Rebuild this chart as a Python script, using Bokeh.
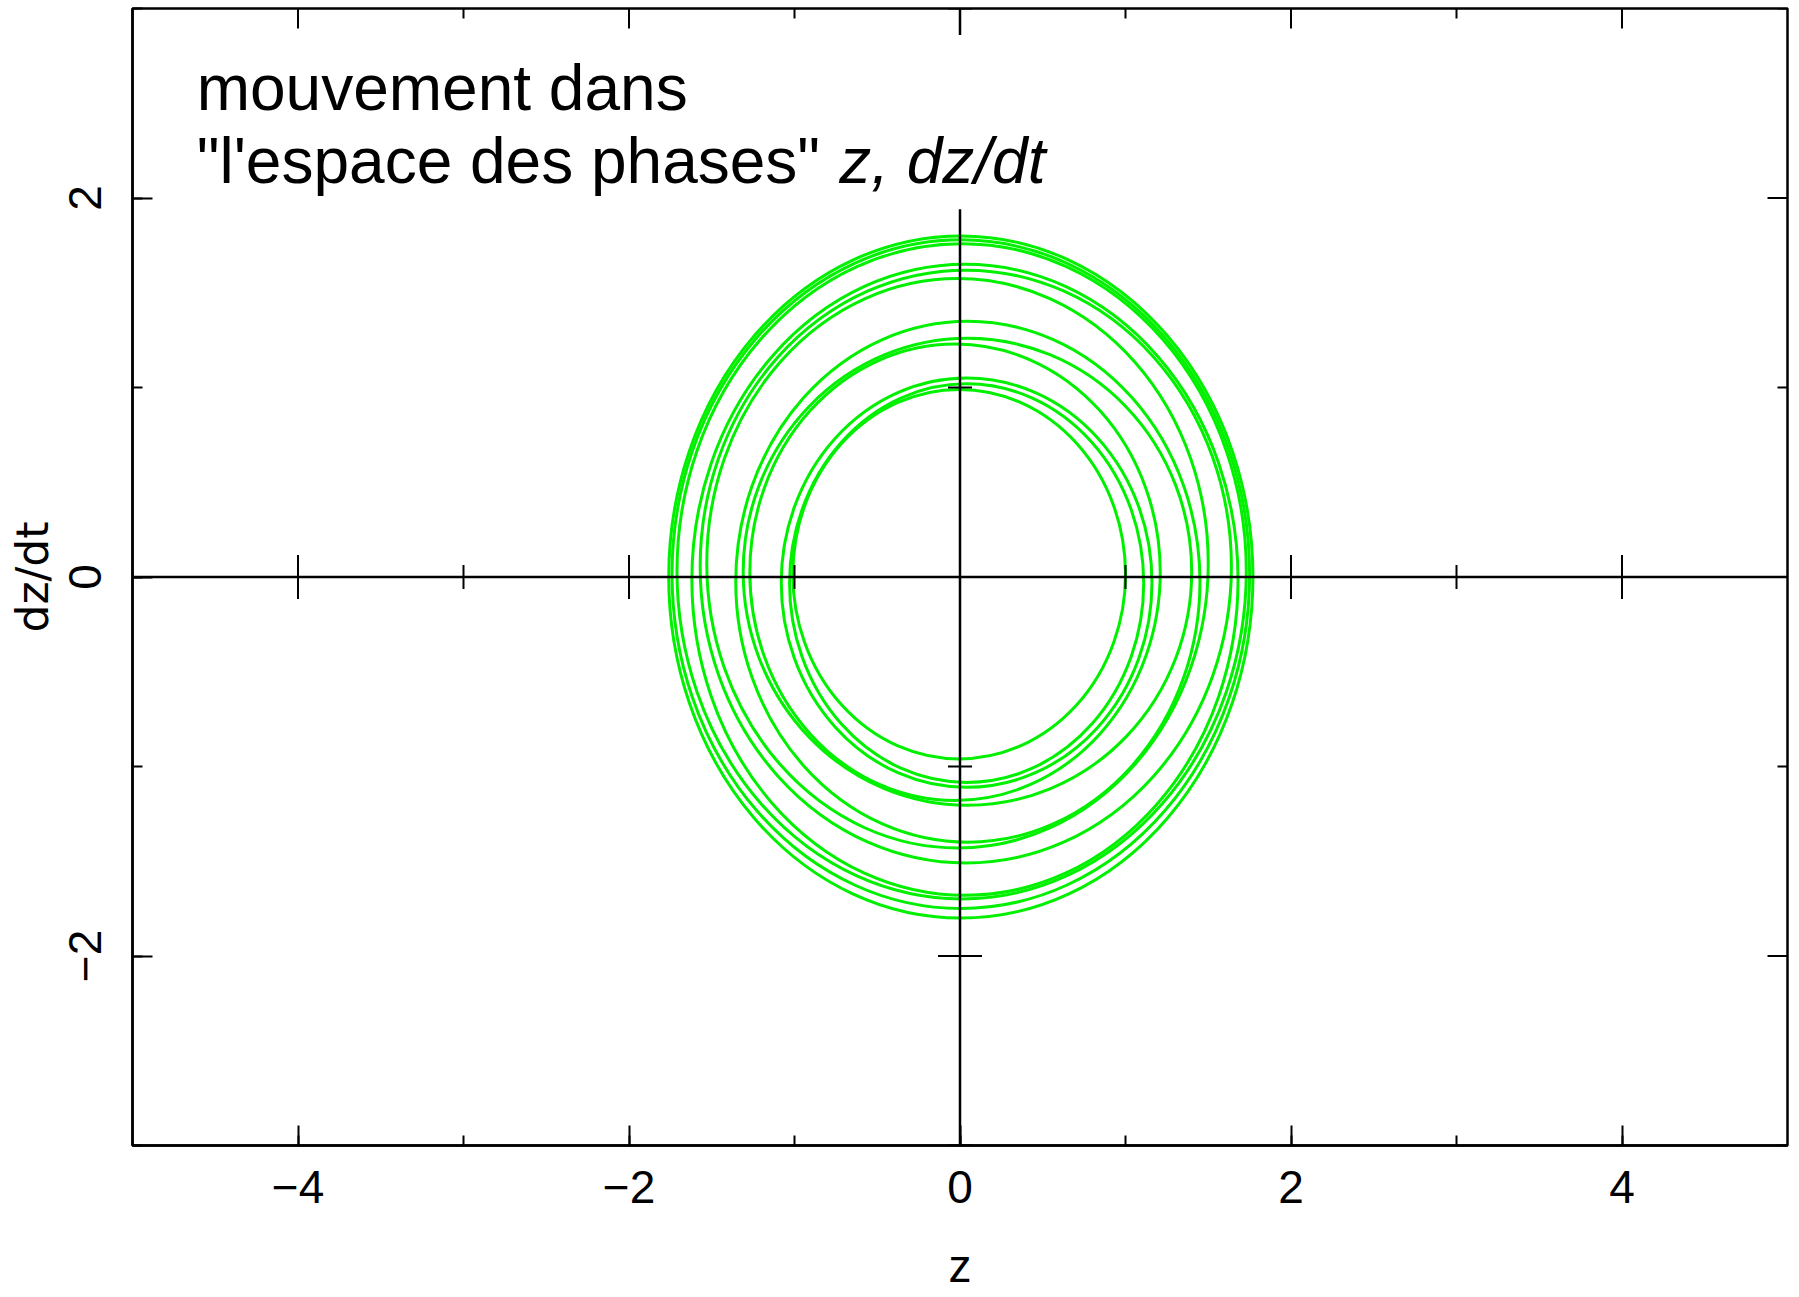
import math
from bokeh.plotting import figure
from bokeh.models import Span, Label, BoxAnnotation, FixedTicker, ColumnDataSource
from bokeh.embed import file_html
from bokeh.resources import INLINE

# Turning points of each loop of the trajectory: extreme z (left/right)
# and extreme dz/dt (top/bottom) reached on every turn.
loop_left = [-1.01, -1.03, -1.08, -1.27, -1.31, -1.355, -1.53, -1.57, -1.62, -1.71, -1.74, -1.76]
loop_right = [1.00, 1.11, 1.16, 1.21, 1.40, 1.45, 1.50, 1.64, 1.68, 1.73, 1.75, 1.77]
loop_top = [0.99, 1.02, 1.05, 1.23, 1.26, 1.35, 1.575, 1.62, 1.65, 1.76, 1.78, 1.80]
loop_bottom = [-0.96, -1.085, -1.11, -1.18, -1.205, -1.40, -1.43, -1.51, -1.68, -1.70, -1.75, -1.80]

# Axis ticks and their labels
x_major = [-4, -2, 0, 2, 4]
x_labels = ["−4", "−2", "0", "2", "4"]
x_minor = [-4, -3, -2, -1, 0, 1, 2, 3, 4]
y_major = [-2, 0, 2]
y_labels = ["−2", "0", "2"]
y_minor = [-3, -2, -1, 0, 1, 2, 3]

X_MIN, X_MAX = -5, 5
Y_MIN, Y_MAX = -3, 3

title_line1 = "mouvement dans"
title_line2 = "\"l'espace des phases\""
title_vars = "z, dz/dt"

FONT = "Liberation Sans"
GREEN = "#00f000"

p = figure(width=1799, height=1297, x_range=(X_MIN, X_MAX), y_range=(Y_MIN, Y_MAX),
           output_backend="svg", toolbar_location=None,
           min_border_left=132, min_border_right=12,
           min_border_top=8, min_border_bottom=152)
p.grid.visible = False
p.background_fill_color = "white"
p.border_fill_color = "white"
p.outline_line_color = "black"
p.outline_line_width = 2.5


def style_axis(ax, ticks, minor, labels):
    ax.ticker = FixedTicker(ticks=ticks, minor_ticks=minor)
    ax.axis_line_color = "black"
    ax.axis_line_width = 2.5
    ax.major_tick_line_width = 2
    ax.minor_tick_line_width = 2
    ax.major_tick_in = 20
    ax.major_tick_out = 0
    ax.minor_tick_in = 10
    ax.minor_tick_out = 0
    ax.major_label_overrides = dict(zip(ticks, labels))
    ax.major_label_text_font = FONT
    ax.major_label_text_font_size = "46px"
    ax.major_label_text_color = "black"
    ax.axis_label_text_font = FONT
    ax.axis_label_text_font_size = "46px"
    ax.axis_label_text_font_style = "normal"
    ax.axis_label_text_color = "black"


xb = p.xaxis[0]
style_axis(xb, x_major, x_minor, x_labels)
xb.axis_label = "z"
xb.major_label_standoff = 25
xb.axis_label_standoff = 34

yl = p.yaxis[0]
style_axis(yl, y_major, y_minor, y_labels)
yl.axis_label = "dz/dt"
yl.axis_label_text_font = "DejaVu Sans"
yl.axis_label_text_font_size = "44px"
yl.major_label_orientation = "vertical"
yl.major_label_standoff = 32
yl.axis_label_standoff = 8

# Trajectory loops in the (z, dz/dt) plane
src = ColumnDataSource(dict(
    x=[(l + r) / 2 for l, r in zip(loop_left, loop_right)],
    y=[(t + b) / 2 for t, b in zip(loop_top, loop_bottom)],
    w=[r - l for l, r in zip(loop_left, loop_right)],
    h=[t - b for t, b in zip(loop_top, loop_bottom)],
))
p.ellipse(x="x", y="y", width="w", height="h", source=src,
          fill_color=None, line_color=GREEN, line_width=3)

x_odd = [v for v in x_minor if v not in x_major]
y_odd = [v for v in y_minor if v not in y_major]


def dashes(xs, ys, size, vertical):
    p.scatter(x=xs, y=ys, marker="dash", size=size,
              angle=math.pi / 2 if vertical else 0.0,
              line_color="black", line_width=2)


# Inward ticks on the top and right edges (half of each dash is clipped)
dashes(x_major, [Y_MAX] * len(x_major), 40, True)
dashes(x_odd, [Y_MAX] * len(x_odd), 20, True)
dashes([X_MAX] * len(y_major), y_major, 40, False)
dashes([X_MAX] * len(y_odd), y_odd, 20, False)

# Axes through the origin, with crossing ticks
dashes(x_major, [0] * len(x_major), 44, True)
dashes(x_odd, [0] * len(x_odd), 24, True)
dashes([0] * len(y_major), y_major, 44, False)
dashes([0] * len(y_odd), y_odd, 24, False)

p.add_layout(Span(location=0, dimension="width", line_color="black", line_width=2.5))
p.add_layout(Span(location=0, dimension="height", line_color="black", line_width=2.5))

# Caption box
p.add_layout(BoxAnnotation(left=-4.745, right=0.62, top=2.86, bottom=1.94,
                           fill_color="white", fill_alpha=1.0, line_alpha=0))
p.add_layout(Label(x=-4.612, y=2.58, text=title_line1, text_font=FONT,
                   text_font_size="64px", text_color="black",
                   text_baseline="alphabetic", text_align="left"))
p.add_layout(Label(x=-4.612, y=2.196, text=title_line2, text_font=FONT,
                   text_font_size="64px", text_color="black",
                   text_baseline="alphabetic", text_align="left"))
p.add_layout(Label(x=-0.73, y=2.196, text=title_vars, text_font=FONT,
                   text_font_size="64px", text_font_style="italic",
                   text_color="black",
                   text_baseline="alphabetic", text_align="left"))

open("out.html", "w").write(file_html(p, INLINE))
